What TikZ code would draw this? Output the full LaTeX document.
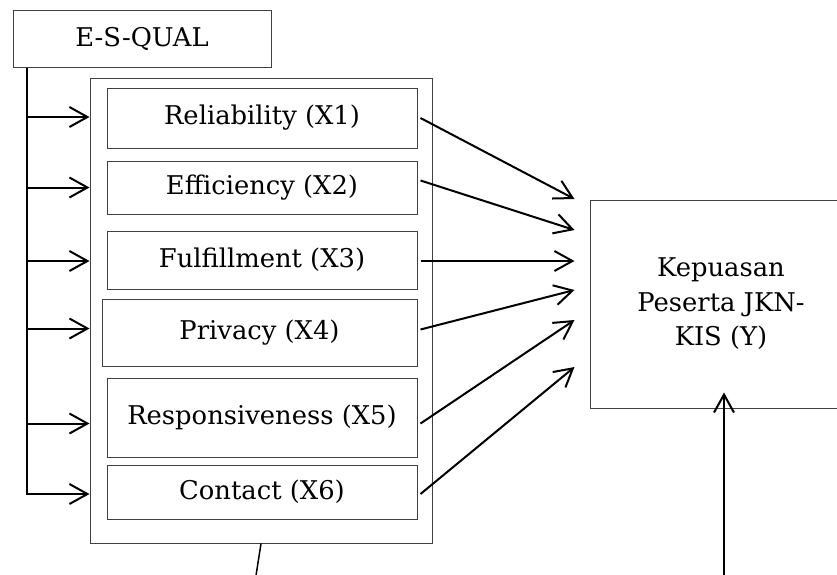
\documentclass[tikz,border=0pt]{standalone}
\usepackage{fontspec}
\setmainfont{DejaVu Serif}
\usetikzlibrary{positioning}
\usetikzlibrary{arrows.meta,calc}

\begin{document}
\begin{tikzpicture}[
x=1pt, y=-1pt,
>={Straight Barb[length=18pt,width=20pt]},
font=\fontsize{25.8}{34.5}\selectfont,
line/.style={line width=2pt},
dimbox/.style={rectangle,draw=black!75,line width=1pt,inner sep=0pt},
factorbox/.style={dimbox,minimum width=310pt},
outbox/.style={dimbox,align=center}]
\useasboundingbox (0,0) rectangle (837,574);
\clip (0,0) rectangle (837,574);
\node [dimbox,minimum width=258pt,minimum height=57pt] (esq) at (142,38.5) {E-S-QUAL};
\node [dimbox,minimum width=342pt,minimum height=465pt] (grp) at (261,310.5) {};
\node [factorbox,minimum height=60pt] (rel) at (262,118) {Reliability (X1)};
\node [factorbox,minimum height=53pt] (eff) at (262,187.5) {Efficiency (X2)};
\node [factorbox,minimum height=58pt] (ful) at (262,260) {Fulfillment (X3)};
\node [factorbox,minimum width=315pt,minimum height=67pt] (pri) at (259.5,332.5) {Privacy (X4)};
\node [factorbox,minimum height=79pt] (res) at (262,417.5) {Responsiveness (X5)};
\node [factorbox,minimum height=54pt] (con) at (262,492) {Contact (X6)};
\node [outbox,minimum width=262pt,minimum height=208pt] (kep) at (721,304) {Kepuasan\\Peserta JKN-\\KIS (Y)};
\coordinate (trunk) at ([xshift=14pt]esq.south west);
\coordinate (cut) at (255,582);
\coordinate (ybase) at (724,582);
% E-S-QUAL ke tiap dimensi
\draw [line,->] (trunk) |- ($(grp.west |- con)+(0,2)$);
\foreach \n/\a in {rel/-1,eff/0,ful/1,pri/-4,res/6}
  \draw [line,->] ($(trunk |- \n)+(0,\a)$) -- ($(grp.west |- \n)+(0,\a)$);
% dimensi ke kepuasan
\foreach \n/\b/\t in {rel/0/-105,eff/-7/-74,ful/1/-43,pri/-3/-14,res/6/16,con/2/63}
  \draw [line,->] ($(\n.east)+(3,\b)$) -- ($(kep.west)+(-15,\t)$);
\draw [line width=1.5pt] (grp.south) -- (cut);
\draw [line,->] (ybase) -- ($(kep.south)+(3,-16)$);
\end{tikzpicture}
\end{document}
